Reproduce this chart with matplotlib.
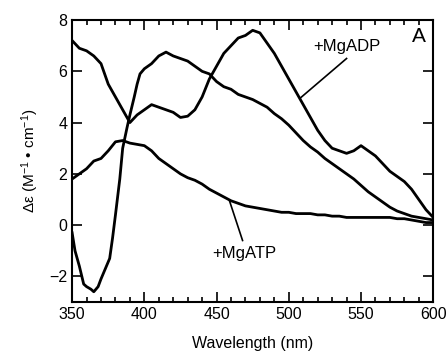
import matplotlib
matplotlib.use("Agg")
import matplotlib.pyplot as plt
from matplotlib.ticker import MultipleLocator

plt.rcParams['font.family'] = ['Liberation Sans', 'DejaVu Sans']
plt.rcParams['mathtext.fontset'] = 'custom'
plt.rcParams['mathtext.rm'] = 'Liberation Sans'
plt.rcParams['mathtext.it'] = 'Liberation Sans:italic'

# +MgADP curve
wl_adp = [350, 355, 360, 365, 370, 375, 380, 385, 390, 395, 400, 405, 410, 415, 420,
          425, 430, 435, 440, 445, 450, 455, 460, 465, 470, 475, 480, 485, 490, 495,
          500, 505, 510, 515, 520, 525, 530, 535, 540, 545, 550, 555, 560, 565, 570,
          575, 580, 585, 590, 595, 600]
de_adp = [7.2, 6.9, 6.8, 6.6, 6.3, 5.5, 5.0, 4.5, 4.0, 4.3, 4.5, 4.7, 4.6, 4.5, 4.4,
          4.2, 4.25, 4.5, 5.0, 5.7, 6.2, 6.7, 7.0, 7.3, 7.4, 7.6, 7.5, 7.1, 6.7, 6.2,
          5.7, 5.2, 4.7, 4.2, 3.7, 3.3, 3.0, 2.9, 2.8, 2.9, 3.1, 2.9, 2.7, 2.4, 2.1,
          1.9, 1.7, 1.4, 1.0, 0.6, 0.3]

# steep curve (no label)
wl_b = [350, 352, 355, 358, 360, 363, 365, 368, 370, 373, 376, 378, 380, 383, 385,
        388, 390, 393, 395, 397, 400, 405, 410, 415, 420, 425, 430, 435, 440, 445,
        450, 455, 460, 465, 470, 475, 480, 485, 490, 495, 500, 505, 510, 515, 520,
        525, 530, 535, 540, 545, 550, 555, 560, 565, 570, 575, 580, 585, 590, 595, 600]
de_b = [-0.3, -1.0, -1.6, -2.3, -2.4, -2.5, -2.6, -2.4, -2.1, -1.7, -1.3, -0.5, 0.4, 1.8, 3.0,
        3.8, 4.3, 5.0, 5.5, 5.9, 6.1, 6.3, 6.6, 6.75, 6.6, 6.5, 6.4, 6.2, 6.0, 5.9,
        5.6, 5.4, 5.3, 5.1, 5.0, 4.9, 4.75, 4.6, 4.35, 4.15, 3.9, 3.6, 3.3, 3.05, 2.85,
        2.6, 2.4, 2.2, 2.0, 1.8, 1.55, 1.3, 1.1, 0.9, 0.7, 0.55, 0.45, 0.35, 0.3, 0.25, 0.2]

# +MgATP curve
wl_atp = wl_adp
de_atp = [1.8, 2.0, 2.2, 2.5, 2.6, 2.9, 3.25, 3.3, 3.2, 3.15, 3.1, 2.9, 2.6, 2.4, 2.2,
          2.0, 1.85, 1.75, 1.6, 1.4, 1.25, 1.1, 0.95, 0.85, 0.75, 0.7, 0.65, 0.6, 0.55, 0.5,
          0.5, 0.45, 0.45, 0.45, 0.4, 0.4, 0.35, 0.35, 0.3, 0.3, 0.3, 0.3, 0.3, 0.3, 0.3,
          0.25, 0.25, 0.2, 0.15, 0.1, 0.1]

fig = plt.figure(figsize=(4.48, 3.52), dpi=100)
ax = fig.add_axes([0.161, 0.142, 0.806, 0.801])

for wl, de in [(wl_adp, de_adp), (wl_b, de_b), (wl_atp, de_atp)]:
    ax.plot(wl, de, color='black', lw=2.0)

ax.set_xlim(350, 600)
ax.set_ylim(-3, 8)
ax.xaxis.set_major_locator(MultipleLocator(50))
ax.xaxis.set_minor_locator(MultipleLocator(10))
ax.yaxis.set_major_locator(MultipleLocator(2))
ax.tick_params(which='both', direction='in', top=True, right=True, labelsize=11.5, width=1.2)
ax.tick_params(which='major', length=7)
ax.tick_params(which='minor', length=3.5)
for s in ax.spines.values():
    s.set_linewidth(1.5)

ax.set_xlabel('Wavelength (nm)', fontsize=11.5, labelpad=10)
ax.set_ylabel('Δε (M$^{-1}$ • cm$^{-1}$)', fontsize=11, labelpad=6)

ax.plot([508, 540], [4.96, 6.5], color='black', lw=1.2)
ax.text(540, 6.95, '+MgADP', fontsize=12, ha='center', va='center')
ax.plot([459, 468], [0.94, -0.6], color='black', lw=1.2)
ax.text(469.5, -1.1, '+MgATP', fontsize=12, ha='center', va='center')
ax.text(590, 7.35, 'A', fontsize=15, ha='center', va='center')

fig.savefig('out.png', dpi=100)
